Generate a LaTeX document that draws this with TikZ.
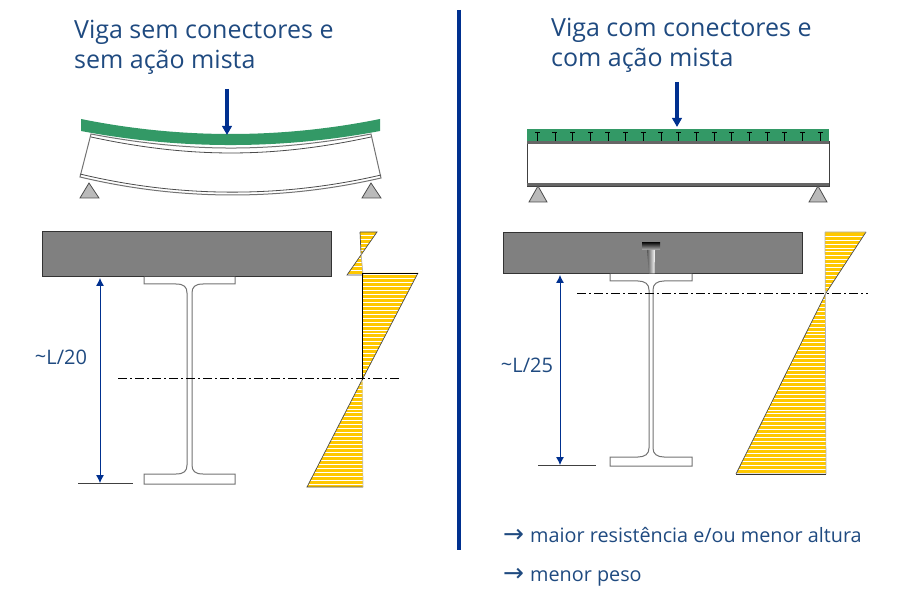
\documentclass[tikz,border=0pt]{standalone}
\usepackage{fontspec}
\setmainfont{Open Sans}
\newfontfamily\arrowfont{DejaVu Sans}
\usepackage{xcolor}
\usetikzlibrary{arrows.meta, positioning, shapes.geometric}
\definecolor{textblue}{HTML}{1F4A80}
\definecolor{loadblue}{HTML}{00308F}
\definecolor{slabgreen}{HTML}{339966}
\definecolor{stressyellow}{HTML}{FFC800}
\newcommand{\notearrow}{\makebox[27pt][l]{\arrowfont\fontsize{25}{25}\selectfont →}}

\begin{document}
\begin{tikzpicture}[
      x=1pt, y=-1pt,
      title/.style={anchor=base west, inner sep=0pt, text=textblue, font=\fontsize{25}{25}\selectfont},
      dimlabel/.style={inner sep=0pt, text=textblue, font=\fontsize{20}{20}\selectfont},
      note/.style={anchor=base west, inner sep=0pt, text=textblue, font=\fontsize{19.8}{20}\selectfont},
      load/.style={-{Triangle[length=9pt, width=9.5pt]}, loadblue, line width=3.5pt},
      dim/.style={{Latex[length=8pt, width=8pt]}-{Latex[length=8pt, width=8pt]}, loadblue, line width=0.8pt},
      support/.style={draw=black!70, fill=black!27, line width=0.8pt},
      slab/.style={draw=black!80, fill=black!50, line width=1pt},
      steel/.style={draw=black!55, fill=white, line width=1pt},
      axisline/.style={black, line width=0.8pt, dash pattern=on 9pt off 3pt on 2pt off 3pt},
      baseline/.style={black!75, line width=0.9pt},
      stress/.style={draw=black!70, line width=0.7pt}
    ]
    \useasboundingbox (0,0) rectangle (908,604);

    \node[title] (titleL1) at (74,39) {Viga sem conectores e};
    \node[title] (titleL2) at (74,69) {sem ação mista};
    \node[title] (titleR1) at (551,37) {Viga com conectores e};
    \node[title] (titleR2) at (551,67) {com ação mista};

    \draw[loadblue, line width=4pt] (459,10) -- (459,550);

    % left beam
    \fill[slabgreen] (81,119) .. controls (180,139) and (281,139) .. (380,119)
      -- (380,131) .. controls (281,149.7) and (180,149.7) .. (81,131) -- cycle;
    \draw[steel] (91,134) .. controls (190,152.7) and (272,152.7) .. (371,134)
      -- (381,178) .. controls (282,200.8) and (180,200.8) .. (80,177) -- cycle;
    \draw[black!70, line width=0.8pt] (91,137) .. controls (190,158.3) and (272,158.3) .. (371,137);
    \draw[black!70, line width=0.8pt] (80,174) .. controls (180,198) and (282,198) .. (381,175);
    \draw[support] (89,183) -- (99,198) -- (80,198) -- cycle;
    \draw[support] (371,183) -- (381,198) -- (362,198) -- cycle;
    \coordinate (loadLa) at (227,89);
    \coordinate (loadLb) at (227,135);
    \draw[load] (loadLa) -- (loadLb);

    % right beam
    \fill[slabgreen] (527,129) rectangle (829,141);
    \foreach \i in {0,...,16}
      \draw[black, line width=0.9pt] ({537.3+17.67*\i},132.5) -- ++(0,8.5)
        ({537.3+17.67*\i-2.5},132.5) -- ++(5,0);
    \draw[black!75, fill=white, line width=0.9pt] (527,141) rectangle (829,186);
    \fill[black!60] (527,141) rectangle (829,144);
    \fill[black!60] (527,183.5) rectangle (829,186);
    \draw[support] (538,186) -- (547,202) -- (529,202) -- cycle;
    \draw[support] (818,186) -- (827,202) -- (809,202) -- cycle;
    \coordinate (loadRa) at (677,82);
    \coordinate (loadRb) at (677,127);
    \draw[load] (loadRa) -- (loadRb);

    % left section
    \draw[slab] (42,232) rectangle (331,277);
    \draw[steel] (144,277) -- (144,284) -- (176,284)
      .. controls (184,284) and (187,287) .. (187,293) -- (187,465)
      .. controls (187,471) and (184,474) .. (176,474) -- (144,474) -- (144,484)
      -- (235,484) -- (235,474) -- (203,474)
      .. controls (195,474) and (192,471) .. (192,465) -- (192,293)
      .. controls (192,287) and (195,284) .. (203,284) -- (235,284) -- (235,277);
    \coordinate (dimLa) at (100,278);
    \coordinate (dimLb) at (100,483);
    \coordinate (baseLa) at (78,483);
    \coordinate (baseLb) at (133,483);
    \draw[baseline] (baseLa) -- (baseLb);
    \draw[dim] (dimLa) -- (dimLb);
    \node[dimlabel] (labelL) at (61,357) {\raisebox{1pt}{\char"007E}L/20};

    \begin{scope}
      \clip (360,232) -- (377,232) -- (347,275) -- (363,275) -- (361,253) -- cycle
        (362,273) -- (418,273) -- (362,380) -- (307,487) -- (363,487) -- cycle;
      \fill[stressyellow] (300,230) rectangle (420,490);
      \foreach \i in {0,...,64}
        \draw[white, line width=0.6pt] (300,{235+3.95*\i}) -- (420,{235+3.95*\i});
    \end{scope}
    \draw[stress] (360,232) -- (377,232) -- (347,275) -- (363,275);
    \draw[stress] (360,232) -- (361,253);
    \draw[black!30, line width=0.7pt] (361,253) -- (363,275);
    \draw[stress] (418,273) -- (362,380) -- (307,487) -- (363,487);
    \draw[black, line width=0.8pt] (362,273) -- (418,273) (362,273) -- (362,380);
    \draw[black!25, line width=0.7pt] (362,380) -- (363,487);
    \coordinate (axisLa) at (118,378);
    \coordinate (axisLb) at (400,378);
    \draw[axisline] (axisLa) -- (axisLb);

    % right section
    \draw[slab] (503,233) rectangle (802,274);
    \shade[top color=black!90, bottom color=black!30] (642,243) rectangle (660,250);
    \shade[left color=black!65, right color=white] (647,250) -- (655,250) -- (654.5,273.5) -- (649,273.5) -- cycle;
    \draw[steel] (610,274) -- (610,281) -- (638,281)
      .. controls (645,281) and (649,284) .. (649,290) -- (649,448)
      .. controls (649,454) and (645,457) .. (638,457) -- (610,457) -- (610,466)
      -- (692,466) -- (692,457) -- (664,457)
      .. controls (657,457) and (653,454) .. (653,448) -- (653,290)
      .. controls (653,284) and (657,281) .. (664,281) -- (692,281) -- (692,274);
    \coordinate (dimRa) at (560,275);
    \coordinate (dimRb) at (560,465);
    \coordinate (baseRa) at (538,465);
    \coordinate (baseRb) at (596,465);
    \draw[baseline] (baseRa) -- (baseRb);
    \draw[dim] (dimRa) -- (dimRb);
    \node[dimlabel] (labelR) at (527,365) {\raisebox{1pt}{\char"007E}L/25};

    \begin{scope}
      \clip (825,232) -- (866,232) -- (826,293) -- (736,474) -- (826,474) -- cycle;
      \fill[stressyellow] (730,230) rectangle (870,476);
      \foreach \i in {0,...,61}
        \draw[white, line width=0.6pt] (730,{236+3.95*\i}) -- (870,{236+3.95*\i});
    \end{scope}
    \draw[stress] (866,232) -- (826,293) -- (736,474);
    \draw[black!30, line width=0.7pt] (825,232) -- (866,232) (736,474) -- (826,474) -- (825,232);
    \draw[black!80, line width=0.8pt] (736,474) -- (826,474);
    \coordinate (axisRa) at (577,293);
    \coordinate (axisRb) at (868,293);
    \draw[axisline] (axisRa) -- (axisRb);

    \node[note] (noteA) at (503,542) {\notearrow maior resistência e/ou menor altura};
    \node[note] (noteB) at (503,581) {\notearrow menor peso};
  \end{tikzpicture}
\end{document}
